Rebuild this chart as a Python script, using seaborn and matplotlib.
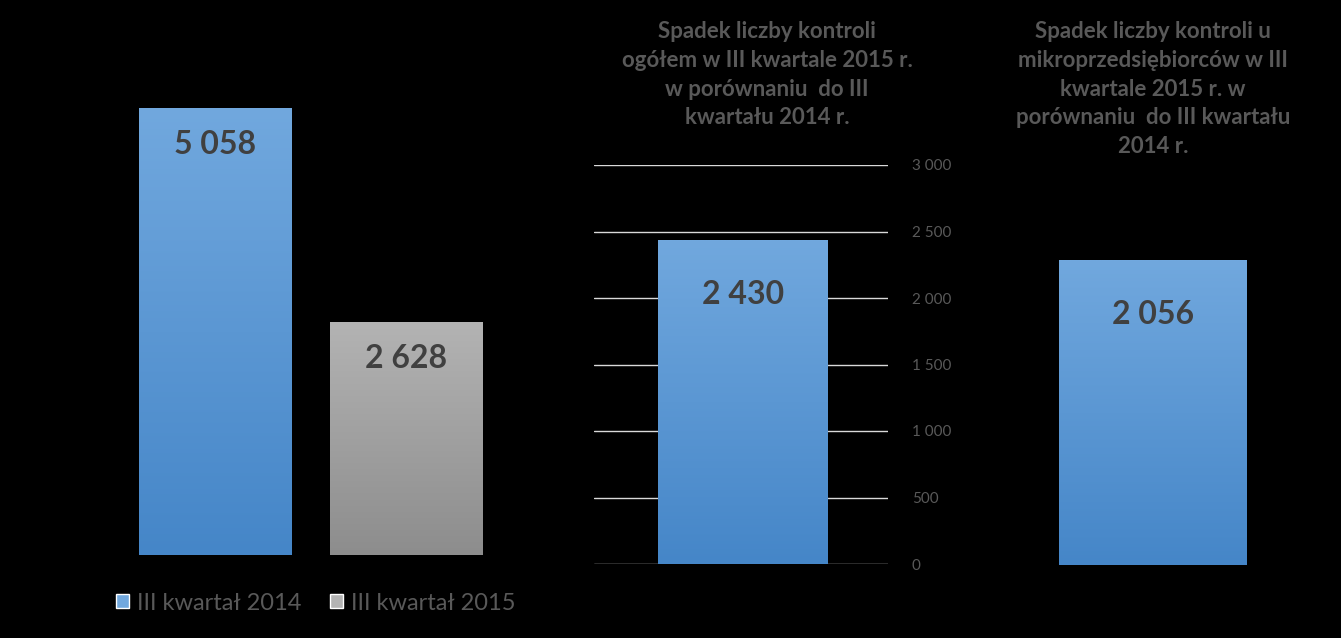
"""Kontrole w III kwartale 2014 vs 2015: three bar panels on black."""
import matplotlib
matplotlib.use("Agg")
import matplotlib.pyplot as plt
import numpy as np
import pandas as pd
import seaborn as sns
from matplotlib.colors import LinearSegmentedColormap
from matplotlib.patches import Patch

QUARTERS = ["III kwartał 2014", "III kwartał 2015"]
QUARTER_COUNTS = [5058, 2628]
TOTAL_DROP = [2430]
MICRO_DROP = [2056]
TOTAL_TICKS = [0, 500, 1000, 1500, 2000, 2500, 3000]
TOTAL_TITLE = ("Spadek liczby kontroli\nogółem w III kwartale 2015 r.\n"
               "w porównaniu  do III\nkwartału 2014 r.")
MICRO_TITLE = ("Spadek liczby kontroli u\nmikroprzedsiębiorców w III\n"
               "kwartale 2015 r. w\nporównaniu  do III kwartału\n2014 r.")

BLUE = ("#4586c8", "#71a8de")   # bottom, top of the gradient
GRAY = ("#8d8d8d", "#b3b3b3")
VALUE_COLOR = "#404040"
MUTED = "#595959"
W, H = 1341, 638


def fmt(v):
    return f"{v:,}".replace(",", " ")


def box(left, top, right, bottom):
    # pixel box (from top-left) -> figure fraction rect
    return [left / W, 1 - bottom / H, (right - left) / W, (bottom - top) / H]


def gradient_bars(ax, colors_per_bar):
    for patch, colors in zip(ax.patches, colors_per_bar):
        patch.set_edgecolor("none")
        cmap = LinearSegmentedColormap.from_list("grad", colors)
        x0, y0 = patch.get_x(), patch.get_y()
        x1, y1 = x0 + patch.get_width(), y0 + patch.get_height()
        ax.imshow(np.linspace(0, 1, 256).reshape(-1, 1), cmap=cmap,
                  origin="lower", extent=(x0, x1, y0, y1), aspect="auto",
                  zorder=patch.get_zorder() + 0.1)


def value_labels(ax, values, drop_px):
    for patch, v in zip(ax.patches, values):
        ax.annotate(fmt(v), xy=(patch.get_x() + patch.get_width() / 2, v),
                    xytext=(0, -drop_px), textcoords="offset pixels",
                    ha="center", va="center", fontsize=23, fontweight="bold",
                    color=VALUE_COLOR, zorder=5)


sns.set_theme(style="dark")
plt.rcParams.update({
    "font.family": ["Lato", "DejaVu Sans"],
    "figure.facecolor": "black",
    "axes.facecolor": "black",
    "savefig.facecolor": "black",
})

fig = plt.figure(figsize=(W / 100, H / 100), dpi=100)

# left panel: both quarters
ax1 = fig.add_axes(box(120, 100, 502, 555))
left_df = pd.DataFrame({"kwartal": QUARTERS, "liczba": QUARTER_COUNTS})
sns.barplot(data=left_df, x="kwartal", y="liczba", ax=ax1, width=0.796,
            color=BLUE[0], linewidth=0)
gradient_bars(ax1, [BLUE, GRAY])
ax1.set_xlim(-0.497, 1.503)
ax1.set_ylim(0, 455 / (447 / QUARTER_COUNTS[0]))
value_labels(ax1, QUARTER_COUNTS, 36)

# middle panel: total drop, with right-hand axis and grid
ax2 = fig.add_axes(box(594, 165, 888, 564))
sns.barplot(x=["ogółem"], y=TOTAL_DROP, ax=ax2, width=0.578, color=BLUE[0],
            linewidth=0)
gradient_bars(ax2, [BLUE])
ax2.set_xlim(-0.507, 0.493)
ax2.set_ylim(0, 3000)
ax2.set_yticks(TOTAL_TICKS, [fmt(t) for t in TOTAL_TICKS])
ax2.yaxis.tick_right()
ax2.tick_params(axis="y", length=0, pad=17, labelsize=11, labelcolor=MUTED)
ax2.grid(axis="y", color="#d9d9d9", linewidth=1)
ax2.set_axisbelow(True)
value_labels(ax2, TOTAL_DROP, 54)

# right panel: micro-enterprises drop, no axis
ax3 = fig.add_axes(box(1010, 165, 1296, 565))
sns.barplot(x=["mikro"], y=MICRO_DROP, ax=ax3, width=0.657, color=BLUE[0],
            linewidth=0)
gradient_bars(ax3, [BLUE])
ax3.set_xlim(-0.5, 0.5)
ax3.set_ylim(0, 400 / (304 / MICRO_DROP[0]))
ax3.set_yticks([])
value_labels(ax3, MICRO_DROP, 54)

for ax in (ax1, ax2, ax3):
    ax.set(xlabel="", ylabel="")
    ax.set_xticks([])
    for s in ax.spines.values():
        s.set_visible(False)
ax1.set_yticks([])

fig.text(767 / W, 1 - 21 / H, TOTAL_TITLE, ha="center", va="top",
         fontsize=16, fontweight="bold", color=MUTED, linespacing=1.46)
fig.text(1153 / W, 1 - 21 / H, MICRO_TITLE, ha="center", va="top",
         fontsize=16, fontweight="bold", color=MUTED, linespacing=1.46)

handles = [Patch(facecolor=BLUE[1]), Patch(facecolor=GRAY[1])]
fig.legend(handles, QUARTERS, loc="center", bbox_to_anchor=(316 / W, 1 - 603 / H),
           ncol=2, frameon=False, fontsize=17, labelcolor=MUTED,
           handlelength=0.55, handleheight=0.55, handletextpad=0.35,
           columnspacing=1.2)

fig.savefig("out.png", dpi=100, facecolor="black")
